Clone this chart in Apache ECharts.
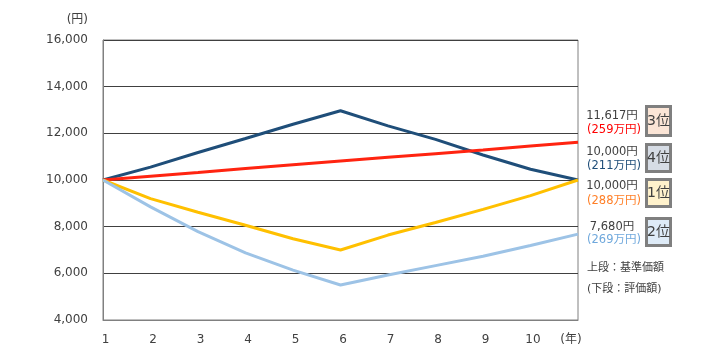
<!DOCTYPE html>
<html>
<head>
<meta charset="utf-8">
<script src="https://cdn.jsdelivr.net/npm/echarts@6/dist/echarts.min.js"></script>
<style>
html,body{margin:0;padding:0;background:#fff;}
#main{width:714px;height:360px;}
</style>
</head>
<body>
<div id="main"></div>
<script>
// ---- data ----
const years = [1, 2, 3, 4, 5, 6, 7, 8, 9, 10, 11];
const seriesNames = ['A', 'B', 'C', 'D'];
const darkBlueValues  = [10000, 10550, 11180, 11780, 12390, 12970, 12320, 11740, 11070, 10460, 10000];
const redValues       = [10000, 10160, 10320, 10490, 10650, 10810, 10970, 11130, 11290, 11460, 11617];
const yellowValues    = [10000, 9200, 8620, 8060, 7480, 7000, 7640, 8180, 8740, 9330, 10000];
const lightBlueValues = [10000, 8850, 7790, 6880, 6140, 5500, 5930, 6330, 6730, 7190, 7680];
const xTickLabels = ['1', '2', '3', '4', '5', '6', '7', '8', '9', '10', '(年)'];
const yAxisUnit = '(円)';
// right-side annotations (top to bottom)
const baseLabels = ['11,617円', '10,000円', '10,000円', '7,680円'];
const evalLabels = ['(259万円)', '(211万円)', '(288万円)', '(269万円)'];
const rankLabels = ['3位', '4位', '1位', '2位'];
const noteLabels = ['上段：基準価額', '(下段：評価額)'];

const lineColors = ['#1F4E79', '#FF2410', '#FFC000', '#9DC3E6'];
const evalColors = ['#FF0000', '#1F4E79', '#FF7F27', '#6FA8DC'];
const rankFills = ['#FBE5D6', '#D6DCE5', '#FFF2CC', '#DEEBF7'];

const FONT = 'DejaVu Sans, "Noto Sans CJK JP", sans-serif';
const valueSets = [darkBlueValues, redValues, yellowValues, lightBlueValues];

const chart = echarts.init(document.getElementById('main'));

const textBaseY = [116, 152, 186, 227];
const textEvalY = [130, 166, 201, 240];
const boxTop = [105, 143, 178, 217];
const boxH = [32, 30, 30, 30];

const graphic = [];
graphic.push({
  type: 'text', left: null, style: {
    text: yAxisUnit, x: 88, y: 20, textAlign: 'right', textVerticalAlign: 'middle',
    fill: '#404040', font: '12px ' + FONT
  }
});
for (let i = 0; i < 4; i++) {
  graphic.push({
    type: 'text', style: {
      text: baseLabels[i], x: 612, y: textBaseY[i], textAlign: 'center', textVerticalAlign: 'middle',
      fill: '#404040', font: '11.5px ' + FONT
    }
  });
  graphic.push({
    type: 'text', style: {
      text: evalLabels[i], x: 614, y: textEvalY[i], textAlign: 'center', textVerticalAlign: 'middle',
      fill: evalColors[i], font: '11.5px ' + FONT
    }
  });
  graphic.push({
    type: 'rect', shape: { x: 646.5, y: boxTop[i] + 1.5, width: 24, height: boxH[i] - 3 },
    style: { fill: rankFills[i], stroke: '#7F7F7F', lineWidth: 3 }
  });
  graphic.push({
    type: 'text', style: {
      text: rankLabels[i], x: 658.5, y: boxTop[i] + boxH[i] / 2, textAlign: 'center', textVerticalAlign: 'middle',
      fill: '#404040', font: '14px ' + FONT
    }
  });
}
graphic.push({
  type: 'text', style: {
    text: noteLabels[0], x: 587, y: 268, textAlign: 'left', textVerticalAlign: 'middle',
    fill: '#404040', font: '11px ' + FONT
  }
});
graphic.push({
  type: 'text', style: {
    text: noteLabels[1], x: 587, y: 289, textAlign: 'left', textVerticalAlign: 'middle',
    fill: '#404040', font: '11px ' + FONT
  }
});

const option = {
  animation: false,
  backgroundColor: '#ffffff',
  grid: { left: 103, right: 136, top: 40, bottom: 40, show: true, borderColor: '#808080', borderWidth: 1 },
  xAxis: {
    type: 'value', min: 1, max: 11, interval: 1,
    axisLine: { show: true, lineStyle: { color: '#808080', width: 1 } },
    axisTick: { show: false },
    splitLine: { show: false },
    axisLabel: {
      color: '#404040', fontSize: 12, fontFamily: FONT, margin: 14,
      showMaxLabel: true, showMinLabel: true,
      formatter: function (v) {
        const idx = years.indexOf(v);
        if (idx === years.length - 1) return '{y|' + xTickLabels[idx] + '}';
        return '{n|' + xTickLabels[idx] + '}';
      },
      rich: {
        n: { color: '#404040', fontSize: 12, fontFamily: FONT, padding: [0, 0, 0, 5] },
        y: { color: '#404040', fontSize: 12, fontFamily: FONT, padding: [0, 14, 0, 0] }
      }
    }
  },
  yAxis: {
    type: 'value', min: 4000, max: 16000, interval: 2000,
    axisLine: { show: true, lineStyle: { color: '#808080', width: 1 } },
    axisTick: { show: false },
    splitLine: { show: true, lineStyle: { color: ['#808080', '#404040', '#404040', '#404040', '#404040', '#404040', '#404040'], width: 1 } },
    axisLabel: {
      color: '#404040', fontSize: 12, fontFamily: FONT, margin: 15,
      formatter: function (v) { return v.toLocaleString('en-US'); }
    }
  },
  series: valueSets.map(function (vals, i) {
    return {
      name: seriesNames[i],
      type: 'line',
      data: years.map(function (y, j) { return [y, vals[j]]; }),
      showSymbol: false,
      lineStyle: { color: lineColors[i], width: 3 },
      itemStyle: { color: lineColors[i] },
      z: 2 + i
    };
  }),
  graphic: graphic
};
chart.setOption(option);
</script>
</body>
</html>
